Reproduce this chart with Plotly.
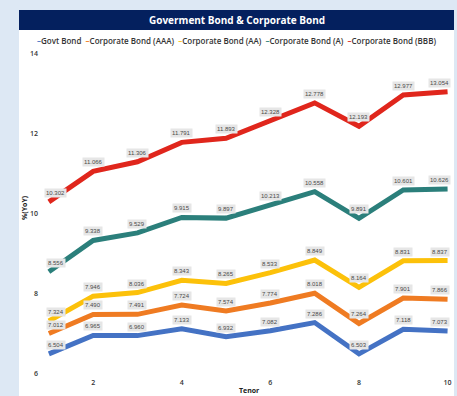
import plotly.graph_objects as go

tenor = [1, 2, 3, 4, 5, 6, 7, 8, 9, 10]
series_names = ["Govt Bond", "Corporate Bond (AAA)", "Corporate Bond (AA)",
                "Corporate Bond (A)", "Corporate Bond (BBB)"]
govt = [6.504, 6.965, 6.960, 7.133, 6.932, 7.082, 7.286, 6.503, 7.118, 7.073]
aaa = [7.012, 7.490, 7.491, 7.724, 7.574, 7.774, 8.018, 7.264, 7.901, 7.866]
aa = [7.324, 7.946, 8.036, 8.343, 8.265, 8.533, 8.849, 8.164, 8.831, 8.837]
a_ = [8.556, 9.338, 9.529, 9.915, 9.897, 10.213, 10.558, 9.891, 10.601, 10.626]
bbb = [10.302, 11.066, 11.306, 11.791, 11.893, 12.328, 12.778, 12.193, 12.977, 13.054]
x_ticks = [2, 4, 6, 8, 10]
y_ticks = [6, 8, 10, 12, 14]
colors = ["#4472c4", "#ef7b22", "#fcc10a", "#2b7f7b", "#e0261c"]

all_series = [govt, aaa, aa, a_, bbb]

W, H = 457, 396
ml, mr, mt, mb = 40, 5, 50, 20
pw, ph = W - ml - mr, H - mt - mb


def px(x):
    return (x - ml) / pw


def py(y):
    return (H - mb - y) / ph


fig = go.Figure()
for name, vals, col in zip(series_names, all_series, colors):
    fig.add_trace(go.Scatter(x=tenor, y=vals, mode="lines", name=name,
                             line=dict(color=col, width=5), showlegend=False))

for vals in all_series:
    for i, (xv, yv) in enumerate(zip(tenor, vals)):
        xs = 7 if i == 0 else (-8 if i == len(tenor) - 1 else 0)
        fig.add_annotation(x=xv, y=yv, xref="x", yref="y", text=f"{yv:.3f}",
                           showarrow=False, yshift=9, xshift=xs,
                           xanchor="center", yanchor="middle",
                           bgcolor="#e6e6e6", borderpad=1,
                           font=dict(size=6, color="#4a4a4a",
                                     family="Liberation Sans Narrow, Arial Narrow, sans-serif"))

legend_parts = []
for name, col in zip(series_names, colors):
    legend_parts.append(f"<span style='color:{col}'>–</span>{name}")
fig.add_annotation(x=px(236), y=py(41), xref="paper", yref="paper",
                   text="  ".join(legend_parts), showarrow=False,
                   xanchor="center", yanchor="middle",
                   font=dict(size=8, color="#333333", family="Open Sans", weight=600))

fig.add_annotation(x=px(237), y=py(20), xref="paper", yref="paper",
                   text="<b>Goverment Bond & Corporate Bond</b>", showarrow=False,
                   xanchor="center", yanchor="middle",
                   font=dict(size=10, color="white", family="Open Sans"))
fig.add_annotation(x=px(249), y=py(390), xref="paper", yref="paper",
                   text="<b>Tenor</b>", showarrow=False,
                   xanchor="center", yanchor="middle",
                   font=dict(size=7, color="#222222", family="Open Sans"))
fig.add_annotation(x=px(24), y=py(208), xref="paper", yref="paper",
                   text="<b>%(YoY)</b>", showarrow=False, textangle=-90,
                   xanchor="center", yanchor="middle",
                   font=dict(size=7, color="#222222", family="Open Sans"))

shapes = [
    dict(type="rect", xref="paper", yref="paper", x0=px(19), x1=px(454), y0=py(10), y1=py(400),
         fillcolor="white", line=dict(width=0), layer="below"),
    dict(type="rect", xref="paper", yref="paper", x0=px(19), x1=px(454), y0=py(10), y1=py(30),
         fillcolor="#04205e", line=dict(width=0), layer="below"),
]

fig.update_layout(
    width=W, height=H,
    margin=dict(l=ml, r=mr, t=mt, b=mb),
    paper_bgcolor="#dde8f4",
    plot_bgcolor="rgba(0,0,0,0)",
    shapes=shapes,
    xaxis=dict(range=[0.8, 10.1], tickvals=x_ticks, showgrid=False, zeroline=False,
               showline=False, ticklabelstandoff=1,
               tickfont=dict(size=7, color="#333333", family="Open Sans", weight=600)),
    yaxis=dict(range=[5.95, 14.1], tickvals=y_ticks, showgrid=False, zeroline=False,
               showline=False, ticklabelstandoff=1,
               tickfont=dict(size=7, color="#333333", family="Open Sans", weight=600)),
)

fig.write_html("out.html")
